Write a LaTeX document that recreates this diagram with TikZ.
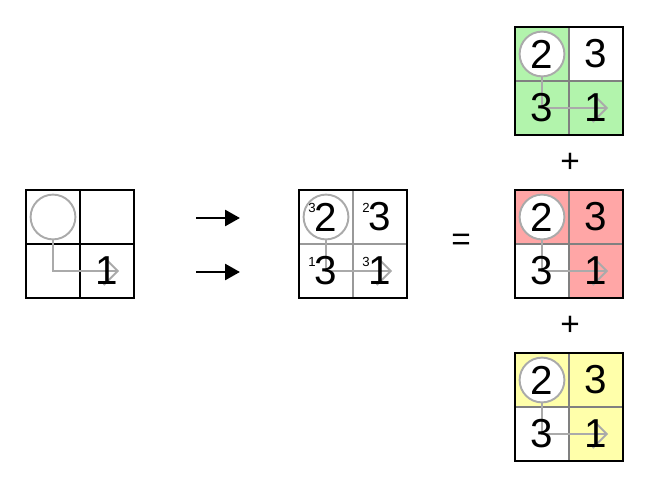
\documentclass[tikz,border=0pt]{standalone}
\usepackage{fontspec}
\setmainfont{Liberation Sans}
\usetikzlibrary{arrows.meta}

\definecolor{Mint}{RGB}{178,244,172}
\definecolor{Rose}{RGB}{255,166,166}
\definecolor{Lemon}{RGB}{255,255,170}
\definecolor{Ash}{RGB}{170,170,170}

\tikzset{
  border/.style={draw=black,line width=1.4pt},
  ring/.style={circle,draw=Ash,fill=white,line width=1.1pt,minimum size=25.5pt,inner sep=0pt},
  route/.style={draw=Ash,line width=1.1pt,-{Straight Barb[length=8pt,width=16pt]}},
  digit/.style={font=\fontsize{23}{23}\selectfont,inner sep=0pt},
  sup/.style={font=\fontsize{7.5}{7.5}\selectfont,inner sep=0pt},
  sign/.style={font=\fontsize{19}{19}\selectfont,inner sep=0pt},
  bigarrow/.style={line width=1.7pt,-{Triangle[length=8.5pt,width=9pt]}}
}

\newcommand{\fillcell}[3]{% Parameters: colour, x, y
  \fill[#1] (#2,#3) rectangle ++(54,54);
}
\newcommand{\drawgrid}[3]{% Parameters: x, y, inner line style
  \draw[#3] (#1,#2) ++(54,0) -- ++(0,108);
  \draw[#3] (#1,#2) ++(0,54) -- ++(108,0);
  \draw[border] (#1,#2) rectangle ++(108,108);
}
\newcommand{\drawring}[3]{% Parameters: grid, x, y
  \node[ring] (#1-ring) at (#2+27,#3+27) {};
  \coordinate (#1-tip) at (#2+93,#3+81);
  \draw[route] (#1-ring) |- (#1-tip);
}
\newcommand{\drawdigits}[7]{% Parameters: grid, x, y, top left, top right, bottom left, bottom right
  \node[digit] (#1-a) at (#2+27,#3+27) {#4};
  \node[digit] (#1-b) at (#2+81,#3+27) {#5};
  \node[digit] (#1-c) at (#2+27,#3+81) {#6};
  \node[digit] (#1-d) at (#2+81,#3+81) {#7};
}
\newcommand{\drawsups}[7]{% Parameters: grid, x, y, top left, top right, bottom left, bottom right
  \node[sup] (#1-sa) at (#2+13,#3+18) {#4};
  \node[sup] (#1-sb) at (#2+67,#3+18) {#5};
  \node[sup] (#1-sc) at (#2+13,#3+72) {#6};
  \node[sup] (#1-sd) at (#2+67,#3+72) {#7};
}

\begin{document}
\begin{tikzpicture}[x=0.02cm,y=-0.02cm]
  \useasboundingbox (0,0) rectangle (651,489);
  % input grid
  \drawgrid{26}{190}{black,line width=0.6pt}
  \drawring{in}{26}{190}
  \node[digit] (in-d) at (107,271) {1};
  % arrows
  \coordinate (top-from) at (196,218);
  \coordinate (top-to) at (240,218);
  \coordinate (low-from) at (196,272);
  \coordinate (low-to) at (240,272);
  \draw[bigarrow] (top-from) -- (top-to);
  \draw[bigarrow] (low-from) -- (low-to);
  % counted grid
  \drawgrid{299}{190}{black!40,line width=0.9pt}
  \drawring{mid}{299}{190}
  \drawdigits{mid}{299}{190}{2}{3}{3}{1}
  \drawsups{mid}{299}{190}{3}{2}{1}{3}
  \node[sign] (eq) at (461,242) {=};
  % green
  \fillcell{Mint}{515}{27}
  \fillcell{Mint}{515}{81}
  \fillcell{Mint}{569}{81}
  \drawgrid{515}{27}{black!50,line width=0.6pt}
  \drawring{gr}{515}{27}
  \drawdigits{gr}{515}{27}{2}{3}{3}{1}
  \node[sign] (plusA) at (570,163) {+};
  % red
  \fillcell{Rose}{515}{190}
  \fillcell{Rose}{569}{190}
  \fillcell{Rose}{569}{244}
  \drawgrid{515}{190}{black!50,line width=0.6pt}
  \drawring{rd}{515}{190}
  \drawdigits{rd}{515}{190}{2}{3}{3}{1}
  \node[sign] (plusB) at (570,326) {+};
  % yellow
  \fillcell{Lemon}{515}{353}
  \fillcell{Lemon}{569}{353}
  \fillcell{Lemon}{569}{407}
  \drawgrid{515}{353}{black!50,line width=0.6pt}
  \drawring{ye}{515}{353}
  \drawdigits{ye}{515}{353}{2}{3}{3}{1}
\end{tikzpicture}
\end{document}
